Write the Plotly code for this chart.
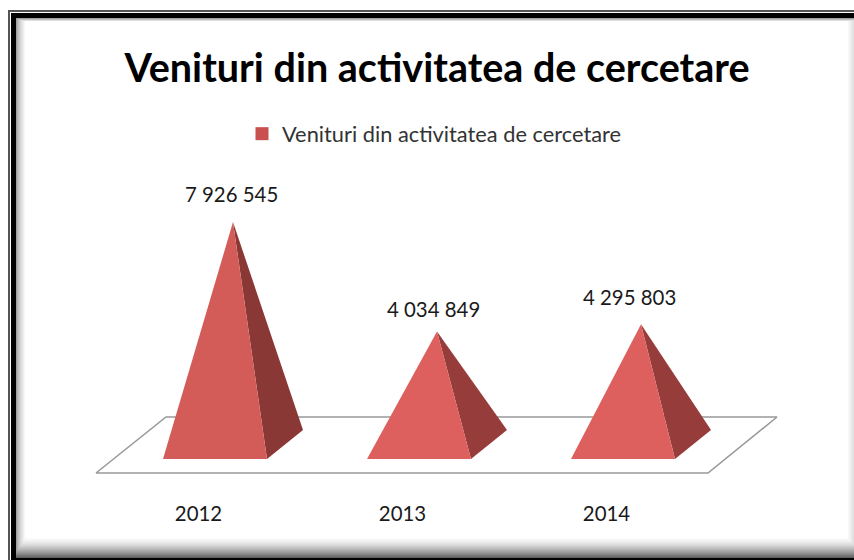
import base64
import struct
import zlib

import plotly.graph_objects as go

# ---------- data ----------
years = ["2012", "2013", "2014"]
values = [7926545, 4034849, 4295803]
value_labels = ["7 926 545", "4 034 849", "4 295 803"]
series_name = "Venituri din activitatea de cercetare"
title_text = "Venituri din activitatea de cercetare"

# ---------- scale set-up (pixels of the 854x560 page) ----------
W, H = 854, 560
PLOT_BOTTOM = 500
X_PER_CAT = 204.0
X0_PX = 215.0            # front centre of first pyramid
Y_PER_UNIT = 2.813e-5    # px per value unit
Y0_PX = 445.0            # centre of pyramid base


def px_x(p):
    return (p - X0_PX) / X_PER_CAT


def px_y(p):
    return (Y0_PX - p) / Y_PER_UNIT


half_w = 52 / X_PER_CAT
depth_x = 36 / X_PER_CAT
base_front = -14 / Y_PER_UNIT
base_back = 15 / Y_PER_UNIT
apex_dx = 18 / X_PER_CAT

front_cols = ["#D35C59", "#DE605E", "#DE605E"]
side_cols = ["#8A3835", "#963D3B", "#963D3B"]
label_shift = [(-1.5, 28), (-3.5, 23), (-11.5, 27)]

fig = go.Figure()

# floor
fig.add_trace(go.Scatter(
    x=[px_x(96), px_x(708), px_x(777), px_x(166), px_x(96)],
    y=[px_y(473), px_y(473), px_y(417), px_y(417), px_y(473)],
    mode="lines", line=dict(color="#999999", width=1.6),
    hoverinfo="skip", showlegend=False))

# pyramids
for i, v in enumerate(values):
    ax = i + apex_dx
    fig.add_trace(go.Scatter(
        x=[i + half_w, i + half_w + depth_x, ax, i + half_w],
        y=[base_front, base_back, v, base_front],
        mode="lines", fill="toself", fillcolor=side_cols[i],
        line=dict(width=0), hoverinfo="skip", showlegend=False))
    fig.add_trace(go.Scatter(
        x=[i - half_w, i + half_w, ax, i - half_w],
        y=[base_front, base_front, v, base_front],
        mode="lines", fill="toself", fillcolor=front_cols[i],
        line=dict(width=0), hoverinfo="skip", showlegend=False))

# legend entry
fig.add_trace(go.Scatter(
    x=[None], y=[None], mode="markers", name=series_name,
    marker=dict(symbol="square", size=13, color="#C9504E")))

# data labels
annotations = []
for i, v in enumerate(values):
    dx, dy = label_shift[i]
    annotations.append(dict(
        x=i + apex_dx, y=v, text=value_labels[i], showarrow=False,
        xshift=dx, yshift=dy, xanchor="center", yanchor="middle",
        font=dict(family="Lato", size=20.4, color="#1a1a1a")))


# frame decoration: a gray-scale PNG with alpha, laid over the whole page
def frame_png():
    rows = []
    for y in range(H):
        row = bytearray([0])
        for x in range(W):
            g, a = 255, 0
            # soft inner shadow
            if 16 <= x < 26 and 18 <= y < 558:
                g, a = int(255 * (0.62 + 0.38 * ((x - 16) / 9) ** 0.7)), 255
            if x >= 848 and 18 <= y < 558:
                g, a = int(255 * (1 - 0.02 * (x - 847))), 255
            if 18 <= y < 22 and x >= 16:
                s = int(255 * (0.62 + 0.38 * (y - 18) / 3))
                g, a = min(g, s), 255
            if 536 <= y < 558 and x >= 16:
                s = int(255 * (1 - ((y - 536) / 21) ** 1.6 * 0.62))
                g, a = min(g, s), 255
            # black band and thin outer line
            if (y >= 13 and 11 <= x < 16) or (x >= 11 and (13 <= y < 18 or y >= 558)):
                g, a = 0, 255
            if (y >= 10 and 8 <= x < 10) or (x >= 8 and 10 <= y < 12):
                g, a = 85, 255
            row += bytes([g, a])
        rows.append(bytes(row))

    def chunk(tag, data):
        crc = zlib.crc32(tag + data) & 0xFFFFFFFF
        return struct.pack(">I", len(data)) + tag + data + struct.pack(">I", crc)

    png = b"\x89PNG\r\n\x1a\n"
    png += chunk(b"IHDR", struct.pack(">IIBBBBB", W, H, 8, 4, 0, 0, 0))
    png += chunk(b"IDAT", zlib.compress(b"".join(rows), 9))
    png += chunk(b"IEND", b"")
    return "data:image/png;base64," + base64.b64encode(png).decode()


fig.update_layout(
    width=W, height=H,
    margin=dict(l=0, r=0, t=0, b=H - PLOT_BOTTOM, autoexpand=False),
    paper_bgcolor="white", plot_bgcolor="white",
    title=dict(text=f"<b>{title_text}</b>", x=437 / W, xanchor="center",
               y=1 - 68 / H, yanchor="middle",
               font=dict(family="Lato", size=39.5, color="#000000")),
    showlegend=True,
    legend=dict(x=434.5 / W, xanchor="center", y=1 - 134 / PLOT_BOTTOM, yanchor="middle",
                bgcolor="rgba(0,0,0,0)",
                font=dict(family="Lato", size=21.8, color="#333333")),
    annotations=annotations,
    images=[dict(source=frame_png(), xref="paper", yref="paper", x=0, y=1,
                 sizex=1, sizey=H / PLOT_BOTTOM, sizing="stretch",
                 xanchor="left", yanchor="top", layer="above")],
    xaxis=dict(range=[px_x(0), px_x(W)], showgrid=False, zeroline=False, showline=False,
               ticks="", tickvals=[i + px_x(198.5) for i in range(len(years))], ticktext=years,
               tickfont=dict(family="Lato", size=20.4, color="#1a1a1a"), fixedrange=True),
    yaxis=dict(range=[px_y(PLOT_BOTTOM), px_y(0)], showgrid=False, zeroline=False,
               showline=False, visible=False, fixedrange=True),
)

fig.write_html("out.html", config={"displayModeBar": False},
               post_script="document.body.style.margin='0';")
